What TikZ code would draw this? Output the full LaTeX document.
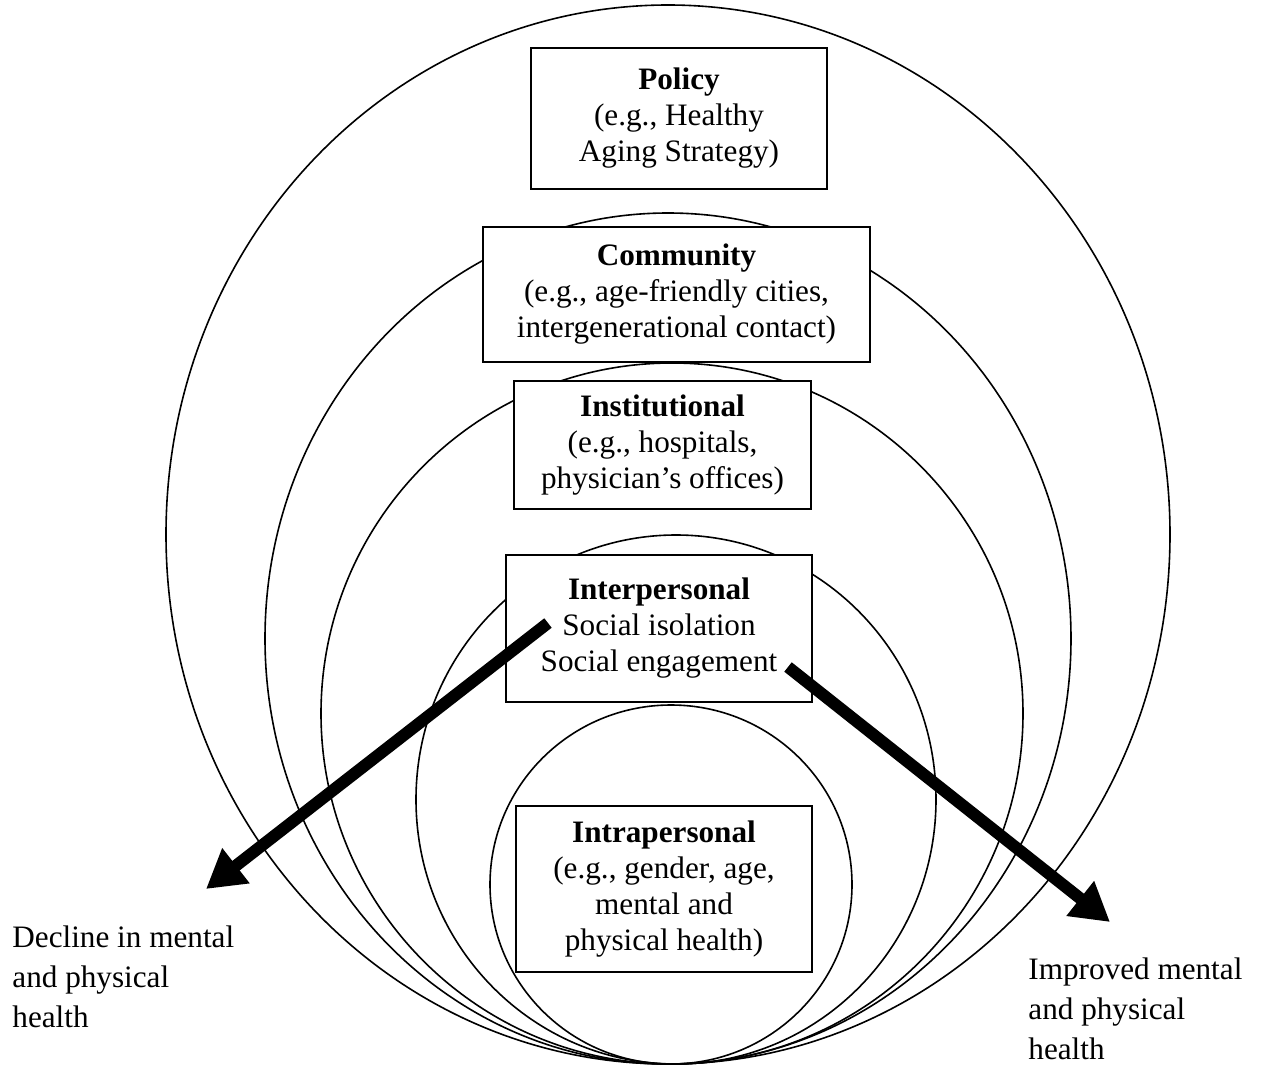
\documentclass[tikz,border=0pt]{standalone}
\usepackage{fontspec}
\setmainfont{Liberation Serif}
\usetikzlibrary{arrows.meta}
\begin{document}
\begin{tikzpicture}[x=0.5pt,y=-0.5pt,
    ring/.style={line width=0.8pt},
    level/.style={draw,line width=1pt,fill=white,inner sep=0pt,align=center,font=\fontsize{15.6}{18}\selectfont},
    outcome/.style={inner sep=0pt,anchor=north west,align=left,font=\fontsize{15.6}{20}\selectfont},
    bigarrow/.style={line width=6pt,-{Triangle[length=19pt,width=21pt]}}]
    \useasboundingbox (0,0) rectangle (1265,1066);
    % nested levels, all touching at the bottom
    \draw[ring] (668,534.5) ellipse [x radius=502,y radius=529.5];
    \draw[ring] (668,638.5) ellipse [x radius=403,y radius=425.5];
    \draw[ring] (672,713.5) ellipse [x radius=351,y radius=350.5];
    \draw[ring] (676,799.5) ellipse [x radius=260,y radius=264.5];
    \draw[ring] (671,884.5) ellipse [x radius=181,y radius=179.5];
    % level boxes
    \node[level,minimum width=148pt,minimum height=70.5pt] (policy) at (679,118.5) {\textbf{Policy}\\(e.g., Healthy\\Aging Strategy)};
    \node[level,minimum width=193.5pt,minimum height=67.5pt] (community) at (676.5,294.5) {\textbf{Community}\\(e.g., age-friendly cities,\\intergenerational contact)};
    \node[level,minimum width=148.5pt,minimum height=64pt] (institutional) at (662.5,445) {\textbf{Institutional}\\(e.g., hospitals,\\physician’s offices)};
    \node[level,minimum width=153pt,minimum height=73.5pt] (interpersonal) at (659,628.5) {\textbf{Interpersonal}\\Social isolation\\Social engagement};
    \node[level,minimum width=148pt,minimum height=83pt] (intrapersonal) at (664,889) {\textbf{Intrapersonal}\\(e.g., gender, age,\\mental and\\physical health)};
    % outcomes
    \node[outcome] (decline) at (12,925) {Decline in mental\\and physical\\health};
    \node[outcome] (improved) at (1028,957) {Improved mental\\and physical\\health};
    \coordinate (isolation) at (548,623);
    \coordinate (engagement) at (788,667);
    \coordinate (declineTip) at (206,889);
    \coordinate (improvedTip) at (1110,922);
    \draw[bigarrow] (isolation) -- (declineTip);
    \draw[bigarrow] (engagement) -- (improvedTip);
\end{tikzpicture}
\end{document}
